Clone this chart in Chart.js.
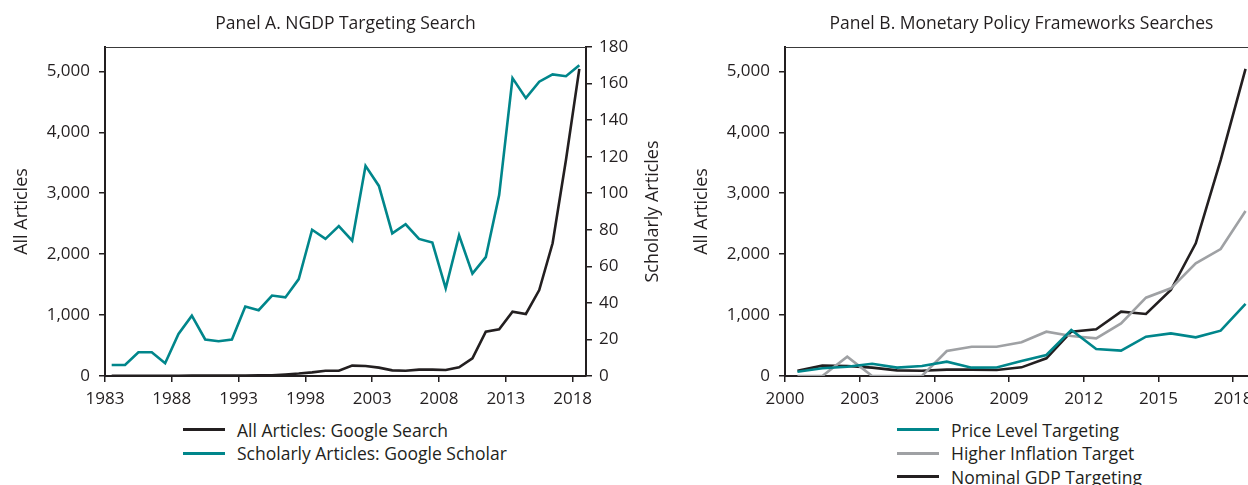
<!DOCTYPE html>
<html>
<head>
<meta charset="utf-8">
<script src="https://cdn.jsdelivr.net/npm/chart.js@4.4.0/dist/chart.umd.min.js"></script>
<style>
html, body { margin: 0; padding: 0; background: #fff; overflow: hidden; width: 1248px; height: 485px; }
.wrap { position: absolute; top: 0; height: 410px; }
#wrapA { left: 0; width: 680px; }
#wrapB { left: 680px; width: 600px; }
.legend { position: absolute; font-family: 'Open Sans', sans-serif; font-size: 17.5px; color: #231f20; }
.legend .row { height: 23.5px; display: flex; align-items: center; white-space: nowrap; }
.legend .sw { display: inline-block; width: 42px; height: 3px; margin-right: 12px; }
</style>
</head>
<body>
<div class="wrap" id="wrapA"><canvas id="chartA"></canvas></div>
<div class="wrap" id="wrapB"><canvas id="chartB"></canvas></div>
<div class="legend" id="legendA" style="left:183px; top:418px;"></div>
<div class="legend" id="legendB" style="left:897px; top:418px;"></div>
<script>
// Panel A data
const yearsA = [1983,1984,1985,1986,1987,1988,1989,1990,1991,1992,1993,1994,1995,1996,1997,1998,1999,
  2000,2001,2002,2003,2004,2005,2006,2007,2008,2009,2010,2011,2012,2013,2014,2015,2016,2017,2018];
const allArticles = [2,3,3,4,4,5,8,8,7,6,8,10,12,25,40,60,85,
  87,170,164,137,93,87,104,104,98,142,290,727,766,1056,1018,1411,2178,3545,5040];
const scholarly = [6,6,13,13,7,23,33,20,19,20,38,36,44,43,53,80,75,
  82,74,115,104,78,83,75,73,48,77,56,65,99,163,152,161,165,164,170];
const xTicksA = [1983,1988,1993,1998,2003,2008,2013,2018];
const yTicksA = [0,1000,2000,3000,4000,5000];
const y2TicksA = [0,20,40,60,80,100,120,140,160,180];

// Panel B data
const yearsB = [2000,2001,2002,2003,2004,2005,2006,2007,2008,2009,2010,2011,2012,2013,2014,2015,2016,2017,2018];
const priceLevel = [71,126,153,202,137,164,235,137,140,246,345,755,443,416,645,700,635,744,1182];
const higherInflation = [0,0,317,0,0,0,410,481,481,553,727,656,618,864,1285,1439,1849,2084,2708];
const nominalGDP = [87,170,164,137,93,87,104,104,98,142,290,727,766,1056,1018,1411,2178,3545,5040];
const xTicksB = [2000,2003,2006,2009,2012,2015,2018];

const INK = '#231f20';
const TEAL = '#00868b';
const GREY = '#9fa1a4';
const FONT = 'Open Sans';
const TICK = { family: FONT, size: 17 };

// points sit in the middle of each year
const pts = (years, vals) => years.map((y, i) => ({ x: y + 0.5, y: vals[i] }));
const fmt = v => v.toLocaleString('en-US');

function axisStyle(extra) {
  return Object.assign({
    grid: { display: true, drawOnChartArea: false, drawTicks: true, tickLength: 6, color: INK, lineWidth: 1.5 },
    border: { display: true, color: INK, width: 2 }
  }, extra);
}

// panel title over the plot, thin top frame line, rotated right title
const frame = {
  id: 'frame',
  afterDraw(chart, args, opts) {
    const { ctx, chartArea: a } = chart;
    ctx.save();
    ctx.strokeStyle = '#3a3a3a';
    ctx.lineWidth = 1;
    ctx.beginPath();
    ctx.moveTo(a.left, a.top + 0.5);
    ctx.lineTo(a.right, a.top + 0.5);
    ctx.stroke();
    ctx.fillStyle = INK;
    ctx.textAlign = 'center';
    ctx.textBaseline = 'middle';
    ctx.font = '17.5px "' + FONT + '"';
    ctx.fillText(opts.title, (a.left + a.right) / 2, 24);
    if (opts.rightTitle) {
      ctx.translate(opts.rightX, (a.top + a.bottom) / 2);
      ctx.rotate(-Math.PI / 2);
      ctx.font = '18px "' + FONT + '"';
      ctx.fillText(opts.rightTitle, 0, 0);
    }
    ctx.restore();
  }
};

const yTitle = { display: true, text: 'All Articles', color: INK, font: { family: FONT, size: 18 }, padding: { top: 11, bottom: 0 } };

const line = (label, data, color, axis) => ({
  label, data, borderColor: color, backgroundColor: color, borderWidth: 2.6,
  pointRadius: 0, tension: 0, yAxisID: axis || 'y'
});

const chartA = new Chart(document.getElementById('chartA'), {
  type: 'line',
  data: {
    datasets: [
      line('All Articles: Google Search', pts(yearsA, allArticles), INK, 'y'),
      line('Scholarly Articles: Google Scholar', pts(yearsA, scholarly), TEAL, 'y1')
    ]
  },
  options: {
    responsive: true, maintainAspectRatio: false, animation: false,
    layout: { padding: { top: 47 } },
    plugins: {
      legend: { display: false }, tooltip: { enabled: false }, title: { display: false },
      frame: { title: 'Panel A. NGDP Targeting Search', rightTitle: 'Scholarly Articles', rightX: 653 }
    },
    scales: {
      x: axisStyle({
        type: 'linear', min: 1983, max: 2019,
        afterBuildTicks: s => { s.ticks = xTicksA.map(v => ({ value: v })); },
        afterFit: s => { s.height = 34; },
        ticks: { color: INK, font: TICK, padding: 7, maxRotation: 0, callback: v => String(v) }
      }),
      y: axisStyle({
        position: 'left', min: 0, max: 5400,
        afterBuildTicks: s => { s.ticks = yTicksA.map(v => ({ value: v })); },
        afterFit: s => { s.width = 105; },
        ticks: { color: INK, font: TICK, padding: 9, callback: fmt },
        title: yTitle
      }),
      y1: axisStyle({
        position: 'right', min: 0, max: 180,
        afterBuildTicks: s => { s.ticks = y2TicksA.map(v => ({ value: v })); },
        afterFit: s => { s.width = 94; },
        ticks: { color: INK, font: TICK, padding: 7, callback: fmt }
      })
    }
  },
  plugins: [frame]
});

const chartB = new Chart(document.getElementById('chartB'), {
  type: 'line',
  data: {
    datasets: [
      line('Price Level Targeting', pts(yearsB, priceLevel), TEAL),
      line('Higher Inflation Target', pts(yearsB, higherInflation), GREY),
      line('Nominal GDP Targeting', pts(yearsB, nominalGDP), INK)
    ]
  },
  options: {
    responsive: true, maintainAspectRatio: false, animation: false,
    layout: { padding: { top: 47, right: 22 } },
    plugins: {
      legend: { display: false }, tooltip: { enabled: false }, title: { display: false },
      frame: { title: 'Panel B. Monetary Policy Frameworks Searches' }
    },
    scales: {
      x: axisStyle({
        type: 'linear', min: 2000, max: 2019,
        afterBuildTicks: s => { s.ticks = xTicksB.map(v => ({ value: v })); },
        afterFit: s => { s.height = 34; },
        ticks: { color: INK, font: TICK, padding: 7, maxRotation: 0, callback: v => String(v) }
      }),
      y: axisStyle({
        position: 'left', min: 0, max: 5400,
        afterBuildTicks: s => { s.ticks = yTicksA.map(v => ({ value: v })); },
        afterFit: s => { s.width = 105; },
        ticks: { color: INK, font: TICK, padding: 9, callback: fmt },
        title: yTitle
      })
    }
  },
  plugins: [frame]
});

// legends built from the datasets
function buildLegend(chart, el) {
  chart.data.datasets.forEach(ds => {
    const row = document.createElement('div');
    row.className = 'row';
    const sw = document.createElement('span');
    sw.className = 'sw';
    sw.style.background = ds.borderColor;
    row.appendChild(sw);
    row.appendChild(document.createTextNode(ds.label));
    el.appendChild(row);
  });
}
buildLegend(chartA, document.getElementById('legendA'));
buildLegend(chartB, document.getElementById('legendB'));
</script>
</body>
</html>
